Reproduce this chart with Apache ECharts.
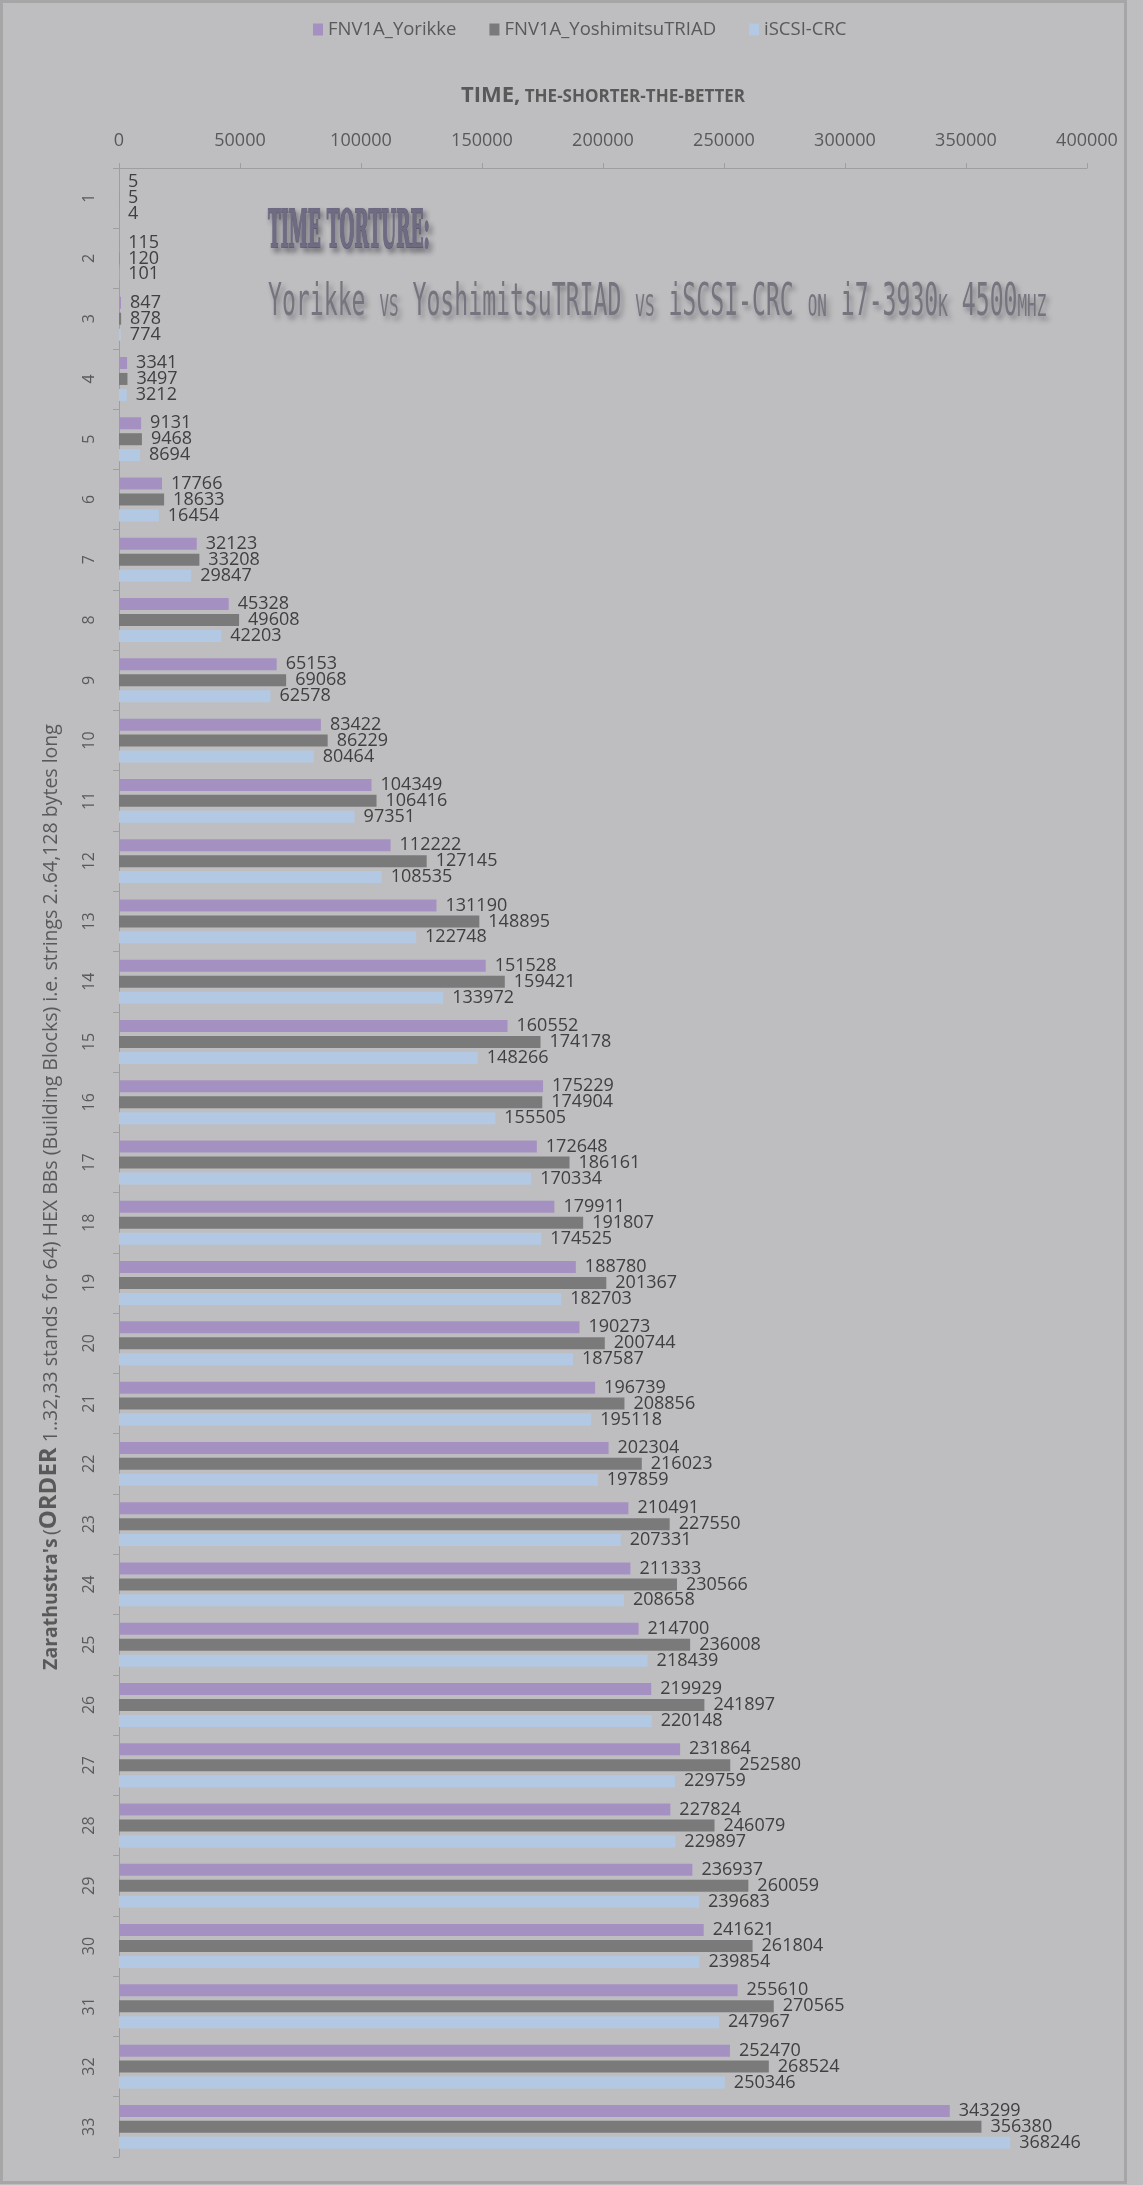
<!DOCTYPE html>
<html>
<head>
<meta charset="utf-8">
<script src="https://cdn.jsdelivr.net/npm/echarts@6/dist/echarts.min.js"></script>
<style>
  html, body { margin: 0; padding: 0; background: #bebec0; }
  #chart { width: 1143px; height: 2185px; }
</style>
</head>
<body>
<div id="chart"></div>
<script>
const categories = ['1','2','3','4','5','6','7','8','9','10','11','12','13','14','15','16','17','18','19','20','21','22','23','24','25','26','27','28','29','30','31','32','33'];
const seriesNames = ['FNV1A_Yorikke', 'FNV1A_YoshimitsuTRIAD', 'iSCSI-CRC'];
const yorikke = [5,115,847,3341,9131,17766,32123,45328,65153,83422,104349,112222,131190,151528,160552,175229,172648,179911,188780,190273,196739,202304,210491,211333,214700,219929,231864,227824,236937,241621,255610,252470,343299];
const yoshimitsu = [5,120,878,3497,9468,18633,33208,49608,69068,86229,106416,127145,148895,159421,174178,174904,186161,191807,201367,200744,208856,216023,227550,230566,236008,241897,252580,246079,260059,261804,270565,268524,356380];
const iscsi = [4,101,774,3212,8694,16454,29847,42203,62578,80464,97351,108535,122748,133972,148266,155505,170334,174525,182703,187587,195118,197859,207331,208658,218439,220148,229759,229897,239683,239854,247967,250346,368246];
const xMin = 0, xMax = 400000, xInterval = 50000;
const colors = ['#a591c1', '#7a7a7a', '#b3c9e3'];

const chart = echarts.init(document.getElementById('chart'), null, { renderer: 'canvas' });

const labelFont = '"Open Sans", "DejaVu Sans", sans-serif';
function barSeries(name, data, color) {
  return {
    name: name,
    type: 'bar',
    data: data,
    barWidth: 12,
    barGap: '33%',
    itemStyle: { color: color },
    label: {
      show: true,
      position: 'right',
      distance: 9,
      fontFamily: labelFont,
      fontSize: 18,
      color: '#404040',
      formatter: p => String(p.value)
    }
  };
}

const shadow = { textShadowColor: 'rgba(50,50,60,0.45)', textShadowBlur: 5, textShadowOffsetX: 3, textShadowOffsetY: 4 };
const monoFont = '"DejaVu Sans Mono", "Liberation Mono", monospace';
const big = Object.assign({ fontFamily: monoFont, fontSize: 45, fill: '#76757f', color: '#76757f', verticalAlign: 'bottom', lineHeight: 52 }, shadow);
const small = Object.assign({ fontFamily: monoFont, fontSize: 31, fill: '#76757f', color: '#76757f', verticalAlign: 'bottom', lineHeight: 52, padding: [0, 0, 3, 0] }, shadow);

const option = {
  backgroundColor: '#bebec0',
  animation: false,
  color: colors,
  legend: {
    top: 15,
    left: 308,
    icon: 'rect',
    itemWidth: 10,
    itemHeight: 12,
    itemGap: 33,
    textStyle: { fontFamily: labelFont, fontSize: 18.5, color: '#595959' },
    data: seriesNames
  },
  grid: { left: 119, top: 168, width: 968, height: 1989, containLabel: false },
  xAxis: {
    type: 'value',
    position: 'top',
    min: xMin,
    max: xMax,
    interval: xInterval,
    name: '{a|TIME,}{b| THE-SHORTER-THE-BETTER}',
    nameLocation: 'middle',
    nameGap: 61,
    nameTextStyle: {
      rich: {
        a: { fontFamily: labelFont, fontWeight: 'bold', fontSize: 22, color: '#595959', verticalAlign: 'bottom', lineHeight: 26 },
        b: { fontFamily: labelFont, fontWeight: 'bold', fontSize: 17, color: '#595959', verticalAlign: 'bottom', lineHeight: 26, padding: [0, 0, 1, 0] }
      }
    },
    axisLine: { show: true, lineStyle: { color: '#9e9e9e', width: 1 } },
    axisTick: { show: true, length: 5, lineStyle: { color: '#9e9e9e' } },
    splitLine: { show: false },
    axisLabel: { margin: 18, fontFamily: labelFont, fontSize: 18, color: '#595959', formatter: v => String(v) }
  },
  yAxis: {
    type: 'category',
    inverse: true,
    data: categories,
    axisLine: { show: true, lineStyle: { color: '#9e9e9e', width: 1 } },
    axisTick: { show: true, length: 6, lineStyle: { color: '#9e9e9e' } },
    axisLabel: { rotate: 90, margin: 22, fontFamily: labelFont, fontSize: 16, color: '#595959' }
  },
  series: [
    barSeries(seriesNames[0], yorikke, colors[0]),
    barSeries(seriesNames[1], yoshimitsu, colors[1]),
    barSeries(seriesNames[2], iscsi, colors[2])
  ],
  graphic: [
    {
      type: 'rect',
      silent: true,
      shape: { x: 1.5, y: 1.5, width: 1124, height: 2181 },
      style: { fill: 'none', stroke: '#a6a6a6', lineWidth: 3 }
    },
    {
      type: 'text',
      x: 268, y: 207,
      scaleX: 0.33,
      silent: true,
      style: Object.assign({
        text: 'TIME TORTURE:',
        x: 0, y: 0,
        font: 'bold 52px "DejaVu Serif", serif',
        fill: '#6e6b83',
        stroke: '#6e6b83',
        lineWidth: 2,
        verticalAlign: 'top'
      }, shadow)
    },
    {
      type: 'text',
      x: 268, y: 274,
      scaleX: 0.514,
      silent: true,
      style: {
        text: '{b|Yorikke }{s|VS}{b| YoshimitsuTRIAD }{s|VS}{b| iSCSI-CRC }{s|ON}{b| i7-3930}{s|K}{b| 4500}{s|MHZ}',
        x: 0, y: 0,
        verticalAlign: 'top',
        rich: { b: big, s: small }
      }
    },
    {
      type: 'text',
      x: 47, y: 1197,
      rotation: Math.PI / 2,
      silent: true,
      style: {
        text: '{z|Zarathustra\'s} {n|(}{o|ORDER}{n| 1..32,33 stands for 64) HEX BBs (Building Blocks) i.e. strings 2..64,128 bytes long}',
        x: 0, y: 0,
        textAlign: 'center',
        verticalAlign: 'middle',
        rich: {
          z: { fontFamily: labelFont, fontWeight: 'bold', fontSize: 19.5, fill: '#595959', verticalAlign: 'bottom', lineHeight: 28 },
          o: { fontFamily: labelFont, fontWeight: 'bold', fontSize: 24, fill: '#595959', verticalAlign: 'bottom', lineHeight: 28 },
          n: { fontFamily: labelFont, fontSize: 19.5, fill: '#595959', verticalAlign: 'bottom', lineHeight: 28 }
        }
      }
    }
  ]
};
chart.setOption(option);
</script>
</body>
</html>
